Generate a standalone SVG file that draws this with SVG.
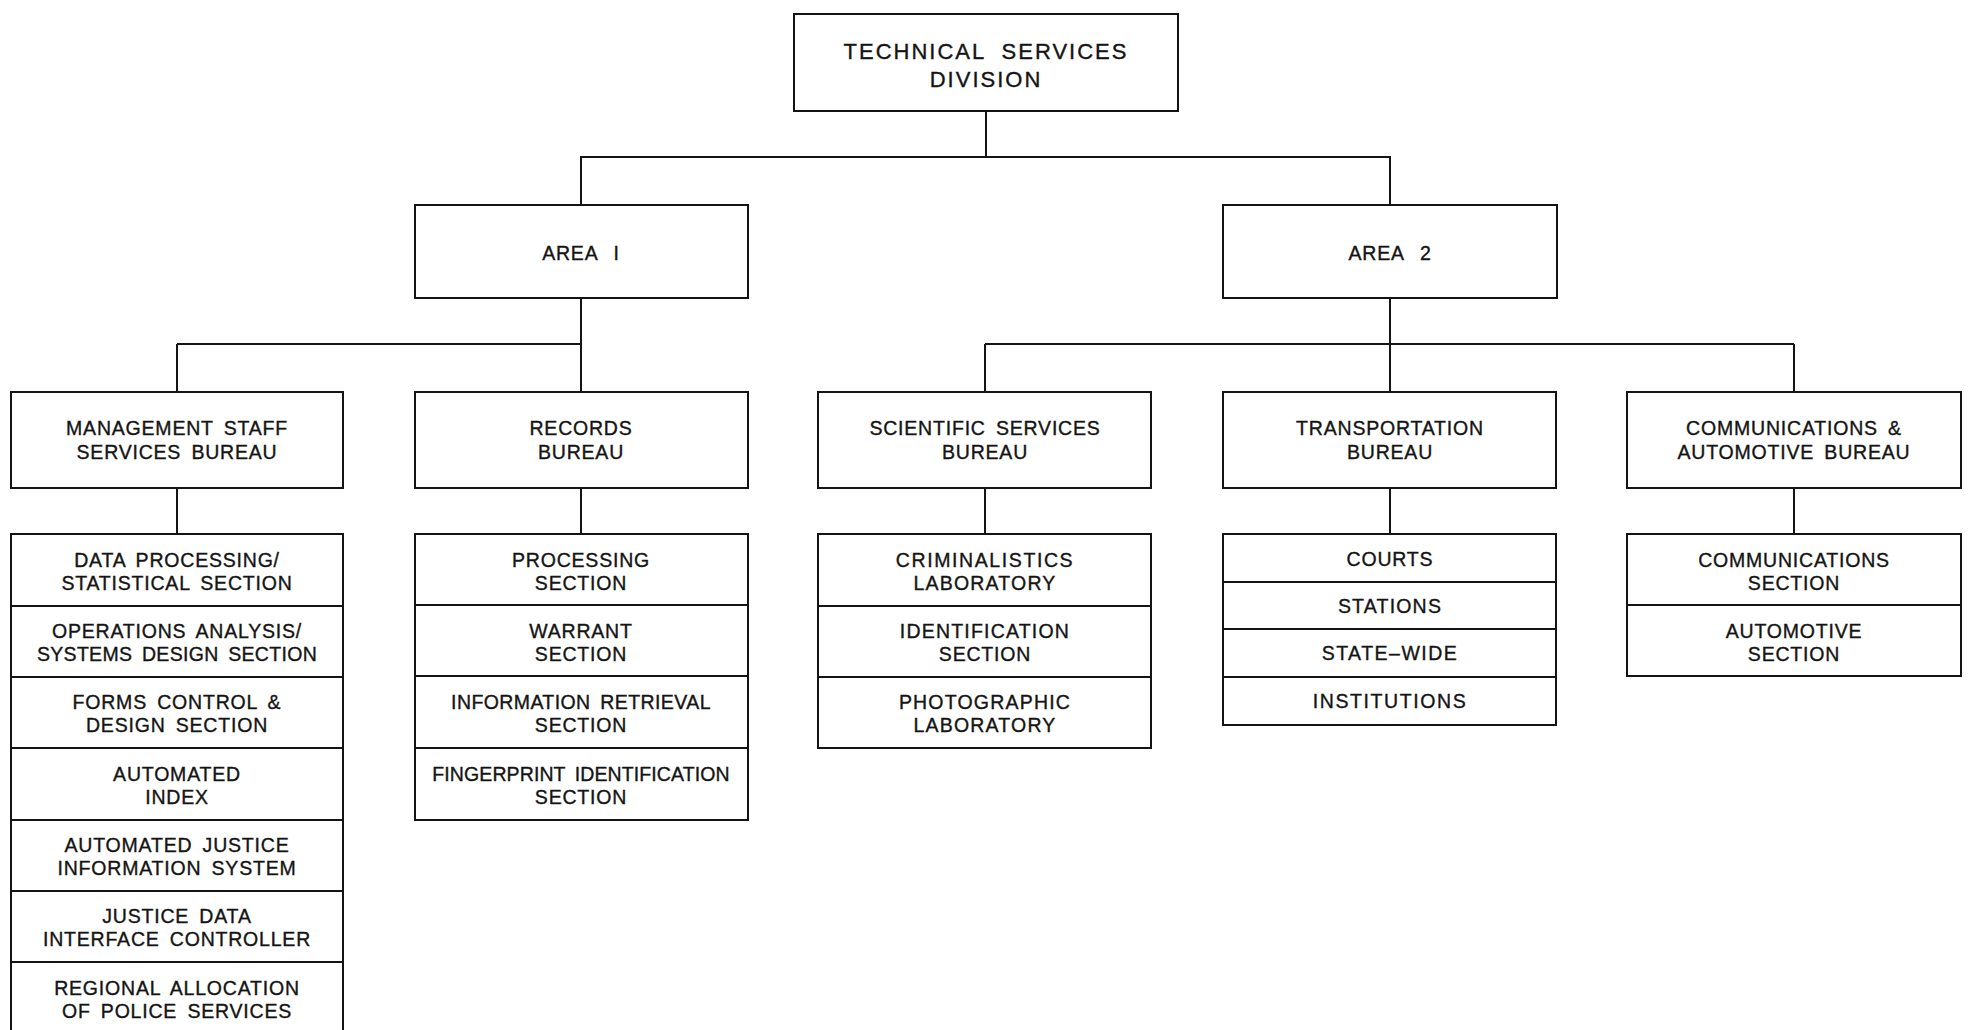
<svg xmlns="http://www.w3.org/2000/svg" width="1971" height="1030" viewBox="0 0 1971 1030">
<style>
.bg{fill:#fff}
.box{fill:#fff;stroke:#141414;stroke-width:2}
.div{stroke:#141414;stroke-width:2}
.c{stroke:#141414;stroke-width:2;fill:none}
.t{font-family:"Liberation Sans",Arial,sans-serif;font-size:19.5px;text-anchor:middle;fill:#141414;stroke:#141414;stroke-width:0.35;letter-spacing:0.8px;word-spacing:4px}
.title{font-size:22px;letter-spacing:2px;word-spacing:8px}
</style>
<rect class="bg" x="0" y="0" width="1971" height="1030"/>

<g id="connectors">
  <path class="c" d="M986 111 V157 M580 157 H1391 M581 157 V205 M1390 157 V205"/>
  <path class="c" d="M581 298 V392 M177 344 H581 M177 344 V392"/>
  <path class="c" d="M1390 298 V392 M985 344 H1794 M985 344 V392 M1794 344 V392"/>
  <path class="c" d="M177 488 V534 M581 488 V534 M985 488 V534 M1390 488 V534 M1794 488 V534"/>
</g>

<g id="technical-services-division">
  <rect class="box" x="794" y="14" width="384" height="97"/>
  <text class="t title" x="986" y="59">TECHNICAL SERVICES</text>
  <text class="t title" x="986" y="87">DIVISION</text>
</g>

<g id="area-1">
  <rect class="box" x="415" y="205" width="333" height="93"/>
  <text class="t" x="581" y="260" style="word-spacing:10px">AREA I</text>
</g>
<g id="area-2">
  <rect class="box" x="1223" y="205" width="334" height="93"/>
  <text class="t" x="1390" y="260" style="word-spacing:10px">AREA 2</text>
</g>

<g id="management-staff-services-bureau">
  <rect class="box" x="11" y="392" width="332" height="96"/>
  <text class="t" x="177" y="435">MANAGEMENT STAFF</text>
  <text class="t" x="177" y="459">SERVICES BUREAU</text>
</g>
<g id="records-bureau">
  <rect class="box" x="415" y="392" width="333" height="96"/>
  <text class="t" x="581" y="435">RECORDS</text>
  <text class="t" x="581" y="459">BUREAU</text>
</g>
<g id="scientific-services-bureau">
  <rect class="box" x="818" y="392" width="333" height="96"/>
  <text class="t" x="985" y="435">SCIENTIFIC SERVICES</text>
  <text class="t" x="985" y="459">BUREAU</text>
</g>
<g id="transportation-bureau">
  <rect class="box" x="1223" y="392" width="333" height="96"/>
  <text class="t" x="1390" y="435">TRANSPORTATION</text>
  <text class="t" x="1390" y="459">BUREAU</text>
</g>
<g id="communications-automotive-bureau">
  <rect class="box" x="1627" y="392" width="334" height="96"/>
  <text class="t" x="1794" y="435">COMMUNICATIONS &amp;</text>
  <text class="t" x="1794" y="459">AUTOMOTIVE BUREAU</text>
</g>

<g id="management-sections">
  <rect class="box" x="11" y="534" width="332" height="510"/>
  <path class="div" d="M11 606 H343 M11 677 H343 M11 748 H343 M11 820 H343 M11 891 H343 M11 962 H343"/>
  <g id="data-processing"><text class="t" x="177" y="567">DATA PROCESSING/</text><text class="t" x="177" y="590">STATISTICAL SECTION</text></g>
  <g id="operations-analysis"><text class="t" x="177" y="638">OPERATIONS ANALYSIS/</text><text class="t" x="177" y="661" style="letter-spacing:0.3px">SYSTEMS DESIGN SECTION</text></g>
  <g id="forms-control"><text class="t" x="177" y="709">FORMS CONTROL &amp;</text><text class="t" x="177" y="732">DESIGN SECTION</text></g>
  <g id="automated-index"><text class="t" x="177" y="781">AUTOMATED</text><text class="t" x="177" y="804">INDEX</text></g>
  <g id="automated-justice"><text class="t" x="177" y="852">AUTOMATED JUSTICE</text><text class="t" x="177" y="875">INFORMATION SYSTEM</text></g>
  <g id="justice-data"><text class="t" x="177" y="923">JUSTICE DATA</text><text class="t" x="177" y="946">INTERFACE CONTROLLER</text></g>
  <g id="regional-allocation"><text class="t" x="177" y="995">REGIONAL ALLOCATION</text><text class="t" x="177" y="1018">OF POLICE SERVICES</text></g>
</g>

<g id="records-sections">
  <rect class="box" x="415" y="534" width="333" height="286"/>
  <path class="div" d="M415 605 H748 M415 676 H748 M415 748 H748"/>
  <g id="processing-section"><text class="t" x="581" y="567">PROCESSING</text><text class="t" x="581" y="590">SECTION</text></g>
  <g id="warrant-section"><text class="t" x="581" y="638">WARRANT</text><text class="t" x="581" y="661">SECTION</text></g>
  <g id="information-retrieval"><text class="t" x="581" y="709" style="letter-spacing:0.4px">INFORMATION RETRIEVAL</text><text class="t" x="581" y="732">SECTION</text></g>
  <g id="fingerprint-identification"><text class="t" x="581" y="781" style="letter-spacing:0.1px">FINGERPRINT IDENTIFICATION</text><text class="t" x="581" y="804">SECTION</text></g>
</g>

<g id="scientific-sections">
  <rect class="box" x="818" y="534" width="333" height="214"/>
  <path class="div" d="M818 606 H1151 M818 677 H1151"/>
  <g id="criminalistics-laboratory"><text class="t" x="985" y="567" style="letter-spacing:1.6px">CRIMINALISTICS</text><text class="t" x="985" y="590" style="letter-spacing:1.2px">LABORATORY</text></g>
  <g id="identification-section"><text class="t" x="985" y="638" style="letter-spacing:1.2px">IDENTIFICATION</text><text class="t" x="985" y="661">SECTION</text></g>
  <g id="photographic-laboratory"><text class="t" x="985" y="709" style="letter-spacing:1.2px">PHOTOGRAPHIC</text><text class="t" x="985" y="732" style="letter-spacing:1.2px">LABORATORY</text></g>
</g>

<g id="transportation-sections">
  <rect class="box" x="1223" y="534" width="333" height="191"/>
  <path class="div" d="M1223 582 H1556 M1223 629 H1556 M1223 677 H1556"/>
  <g id="courts"><text class="t" x="1390" y="566">COURTS</text></g>
  <g id="stations"><text class="t" x="1390" y="613" style="letter-spacing:1.2px">STATIONS</text></g>
  <g id="state-wide"><text class="t" x="1390" y="660" style="letter-spacing:1.5px">STATE–WIDE</text></g>
  <g id="institutions"><text class="t" x="1390" y="708" style="letter-spacing:1.6px">INSTITUTIONS</text></g>
</g>

<g id="communications-sections">
  <rect class="box" x="1627" y="534" width="334" height="142"/>
  <path class="div" d="M1627 605 H1961"/>
  <g id="communications-section"><text class="t" x="1794" y="567">COMMUNICATIONS</text><text class="t" x="1794" y="590">SECTION</text></g>
  <g id="automotive-section"><text class="t" x="1794" y="638">AUTOMOTIVE</text><text class="t" x="1794" y="661">SECTION</text></g>
</g>
</svg>
